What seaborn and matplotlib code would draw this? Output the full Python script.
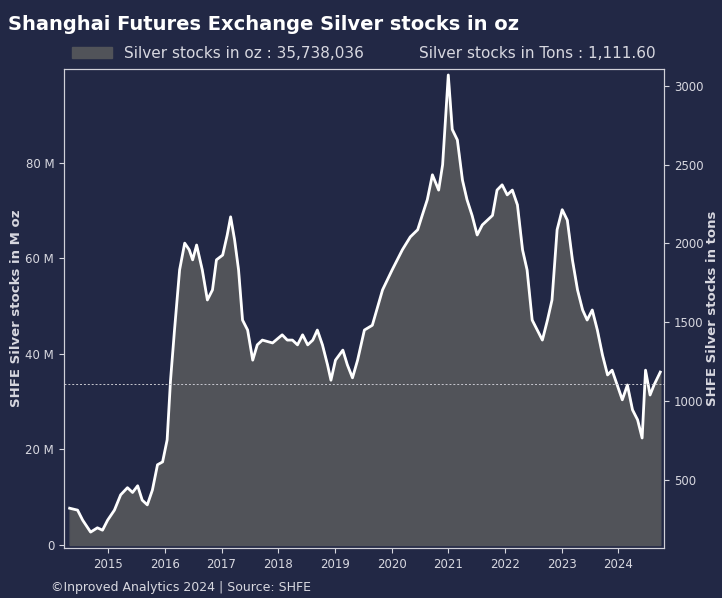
"""Shanghai Futures Exchange silver stocks chart."""
import matplotlib
matplotlib.use('Agg')
import matplotlib.pyplot as plt
import matplotlib.patches as mpatches
import pandas as pd
import seaborn as sns

# decimal year, silver stocks in M oz
years = [2014.32, 2014.46, 2014.55, 2014.69, 2014.81, 2014.90, 2014.99, 2015.11,
         2015.22, 2015.34, 2015.43, 2015.52, 2015.60, 2015.69, 2015.78, 2015.87,
         2015.96, 2016.04, 2016.10, 2016.17, 2016.26, 2016.35, 2016.43, 2016.49,
         2016.56, 2016.66, 2016.75, 2016.84, 2016.91, 2017.02, 2017.10, 2017.16,
         2017.23, 2017.30, 2017.37, 2017.46, 2017.55, 2017.63, 2017.72, 2017.90,
         2018.07, 2018.16, 2018.25, 2018.34, 2018.43, 2018.52, 2018.61, 2018.69,
         2018.78, 2018.87, 2018.93, 2019.01, 2019.14, 2019.22, 2019.31, 2019.40,
         2019.52, 2019.66, 2019.84, 2020.01, 2020.19, 2020.33, 2020.46, 2020.54,
         2020.63, 2020.72, 2020.83, 2020.90, 2021.00, 2021.07, 2021.16, 2021.25,
         2021.33, 2021.42, 2021.51, 2021.60, 2021.78, 2021.86, 2021.95, 2022.04,
         2022.13, 2022.22, 2022.31, 2022.39, 2022.48, 2022.57, 2022.66, 2022.75,
         2022.83, 2022.92, 2023.01, 2023.10, 2023.19, 2023.28, 2023.37, 2023.45,
         2023.54, 2023.63, 2023.72, 2023.81, 2023.89, 2023.98, 2024.07, 2024.16,
         2024.25, 2024.34, 2024.42, 2024.48, 2024.56, 2024.63, 2024.74]
stocks_moz = [7.7, 7.3, 5.2, 2.7, 3.6, 3.1, 5.2, 7.3,
              10.5, 12.0, 11.0, 12.4, 9.4, 8.4, 11.5, 16.8,
              17.4, 22.0, 34.5, 45.0, 57.6, 63.2, 61.8, 59.7,
              62.8, 57.6, 51.3, 53.4, 59.7, 60.7, 64.9, 68.7,
              63.9, 57.6, 47.1, 45.0, 38.7, 41.9, 42.9, 42.3,
              44.0, 42.9, 42.9, 41.9, 44.0, 41.9, 42.9, 45.0,
              41.9, 37.7, 34.5, 38.7, 40.8, 37.7, 35.0, 38.7,
              45.0, 46.0, 53.4, 57.6, 61.8, 64.5, 66.0, 69.0,
              72.3, 77.5, 74.3, 79.6, 98.4, 87.0, 84.8, 76.4,
              72.3, 69.0, 64.9, 67.0, 69.0, 74.3, 75.4, 73.3,
              74.3, 71.2, 61.8, 57.6, 47.1, 45.0, 42.9, 47.1,
              51.3, 66.0, 70.2, 68.0, 59.7, 53.4, 49.2, 47.1,
              49.2, 45.0, 39.8, 35.6, 36.6, 33.5, 30.4, 33.5,
              28.3, 26.2, 22.4, 36.6, 31.4, 33.5, 36.2]

latest_oz = "35,738,036"
latest_tons = 1111.60
left_ticks = [0, 20, 40, 60, 80]
right_ticks = [500, 1000, 1500, 2000, 2500, 3000]
year_ticks = list(range(2015, 2025))

BG = '#222845'
FILL = '#515359'
TXT = '#d8d8e0'

df = pd.DataFrame({'year': years, 'stocks': stocks_moz})

fig = plt.figure(figsize=(7.22, 5.98), dpi=100, facecolor=BG)
ax = fig.add_axes([0.0886, 0.0836, 0.8314, 0.8014])
ax.set_facecolor(BG)

ax.fill_between(df['year'], 0, df['stocks'], color=FILL, zorder=1)
sns.lineplot(data=df, x='year', y='stocks', ax=ax, color='white', linewidth=2, zorder=2)
ax.set_xlim(2014.22, 2024.81)
ax.set_ylim(-0.63, 99.7)
ax.set_xticks(year_ticks)
ax.set_xticklabels([str(y) for y in year_ticks])
ax.set_yticks(left_ticks)
ax.set_yticklabels(['0'] + [f'{v} M' for v in left_ticks[1:]])
ax.set_xlabel('')
ax.set_ylabel('SHFE Silver stocks in M oz', color=TXT, fontsize=9.5,
              fontweight='bold', labelpad=2)

ax2 = ax.twinx()
ax2.set_ylim(68.5, 3108)
ax2.set_yticks(right_ticks)
ax2.axhline(latest_tons, color='#c8c8d0', linestyle=(0, (2, 2)), linewidth=0.7)
ax2.set_ylabel('SHFE Silver stocks in tons', color=TXT, fontsize=9.5,
               fontweight='bold', labelpad=2)

for a in (ax, ax2):
    a.tick_params(colors=TXT, labelsize=8.5)
    for s in a.spines.values():
        s.set_color('#d0d0d8')
    a.grid(False)

handles = [mpatches.Patch(color=FILL, label=f'Silver stocks in oz : {latest_oz}'),
           mpatches.Patch(color='none', label=f'Silver stocks in Tons : {latest_tons:,.2f}')]
leg = ax.legend(handles=handles, ncol=2, loc='lower center', bbox_to_anchor=(0.5, 1.0),
                frameon=False, fontsize=11, handlelength=2.6, columnspacing=0.2,
                borderaxespad=0.1)
for t in leg.get_texts():
    t.set_color(TXT)

fig.text(0.011, 0.975, 'Shanghai Futures Exchange Silver stocks in oz', color='white',
         fontsize=14, fontweight='bold', va='top')
fig.text(0.07, 0.006, '\u00a9Inproved Analytics 2024 | Source: SHFE', color=TXT,
         fontsize=9, va='bottom')

fig.savefig('out.png', dpi=100, facecolor=BG)
